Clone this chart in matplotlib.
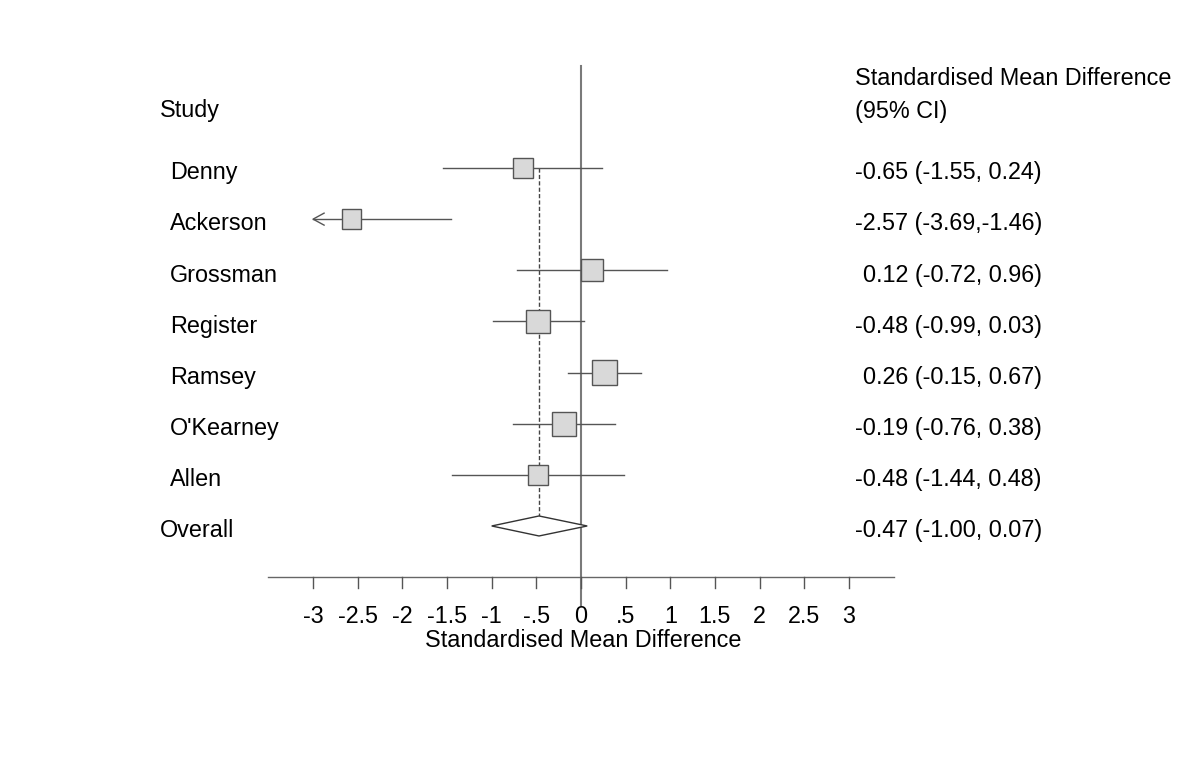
import numpy as np
import matplotlib
matplotlib.use("Agg")
import matplotlib.pyplot as plt
from matplotlib.patches import Rectangle, Polygon

plt.rcParams['font.family'] = ['Liberation Sans', 'DejaVu Sans']

# ---------------- data ----------------
studies = ["Denny", "Ackerson", "Grossman", "Register", "Ramsey", "O'Kearney", "Allen"]
smd = [-0.65, -2.57, 0.12, -0.48, 0.26, -0.19, -0.48]
ci_low = [-1.55, -3.69, -0.72, -0.99, -0.15, -0.76, -1.44]
ci_high = [0.24, -1.46, 0.96, 0.03, 0.67, 0.38, 0.48]
weights = [12.4, 11.2, 13.7, 16.3, 18.1, 16.7, 11.6]   # relative weights (%)
ci_text = ["-0.65 (-1.55, 0.24)", "-2.57 (-3.69,-1.46)", "0.12 (-0.72, 0.96)",
           "-0.48 (-0.99, 0.03)", "0.26 (-0.15, 0.67)", "-0.19 (-0.76, 0.38)",
           "-0.48 (-1.44, 0.48)"]
overall = -0.47
overall_low = -1.00
overall_high = 0.07
overall_text = "-0.47 (-1.00, 0.07)"
tick_values = [-3, -2.5, -2, -1.5, -1, -0.5, 0, 0.5, 1, 1.5, 2, 2.5, 3]
tick_labels = ["-3", "-2.5", "-2", "-1.5", "-1", "-.5", "0", ".5", "1", "1.5", "2", "2.5", "3"]

# ---------------- figure ----------------
W, H = 1200, 776
fig = plt.figure(figsize=(W / 100, H / 100), dpi=100)
ax = fig.add_axes([0, 0, 1, 1])
ax.set_axis_off()

xmin, xmax = -6.506, 6.932
ymin, ymax = 11.889, -3.285   # inverted: rows go downward
ax.set_xlim(xmin, xmax)
ax.set_ylim(ymin, ymax)
px_x = W / (xmax - xmin)
px_y = H / (ymin - ymax)

FS = 16.8
line_col = '#555555'
clip_lo = -3.0

n = len(studies)
rows = np.arange(n)
overall_row = n
axis_row = n + 1

# zero line
ax.plot([0, 0], [-2.0, axis_row + 0.55], color='#7a7a7a', lw=1.5, zorder=1)

# dashed overall line
dia_h = 10 / px_y
ax.plot([overall, overall], [0, overall_row - dia_h], color='#444444', lw=1.0,
        linestyle=(0, (3.0, 1.6)), zorder=1)

# study CIs and boxes
for i, r in enumerate(rows):
    lo = max(ci_low[i], clip_lo)
    ax.plot([lo, ci_high[i]], [r, r], color=line_col, lw=1.0, zorder=2)
    if ci_low[i] < clip_lo:
        ah_x = 11 / px_x
        ah_y = 6 / px_y
        ax.plot([lo + ah_x, lo, lo + ah_x], [r - ah_y, r, r + ah_y],
                color=line_col, lw=1.0, zorder=2)
    side = 5.876 * np.sqrt(weights[i])
    w = side / px_x
    h = side / px_y
    ax.add_patch(Rectangle((smd[i] - w / 2, r - h / 2), w, h, facecolor='#d9d9d9',
                           edgecolor='#555555', lw=1.0, zorder=3))

# overall diamond
ax.add_patch(Polygon([[overall_low, overall_row], [overall, overall_row - dia_h],
                      [overall_high, overall_row], [overall, overall_row + dia_h]],
                     closed=True, facecolor='white', edgecolor='#333333', lw=1.0, zorder=3))

# x axis
ax.plot([-3.5, 3.5], [axis_row, axis_row], color='#666666', lw=1.0, zorder=1)
tick_len = 11 / px_y
for t, lab in zip(tick_values, tick_labels):
    ax.plot([t, t], [axis_row, axis_row + tick_len], color='#555555', lw=1.0, zorder=1)
    ax.text(t, axis_row + 0.90, lab, ha='center', va='baseline', fontsize=FS)
ax.text(0.03, axis_row + 1.37, "Standardised Mean Difference", ha='center',
        va='baseline', fontsize=FS)

# left column
name_x = -4.60
ax.text(-4.714, -0.99, "Study", ha='left', va='baseline', fontsize=FS)
for i, r in enumerate(rows):
    ax.text(name_x, r + 0.22, studies[i], ha='left', va='baseline', fontsize=FS)
ax.text(-4.714, overall_row + 0.22, "Overall", ha='left', va='baseline', fontsize=FS)

# right column
ax.text(3.068, -1.62, "Standardised Mean Difference", ha='left', va='baseline', fontsize=FS)
ax.text(3.068, -0.97, "(95% CI)", ha='left', va='baseline', fontsize=FS)
val_x = 5.162
for i, r in enumerate(rows):
    ax.text(val_x, r + 0.22, ci_text[i], ha='right', va='baseline', fontsize=FS)
ax.text(val_x, overall_row + 0.22, overall_text, ha='right', va='baseline', fontsize=FS)

fig.savefig("out.png", dpi=100, facecolor='white')
